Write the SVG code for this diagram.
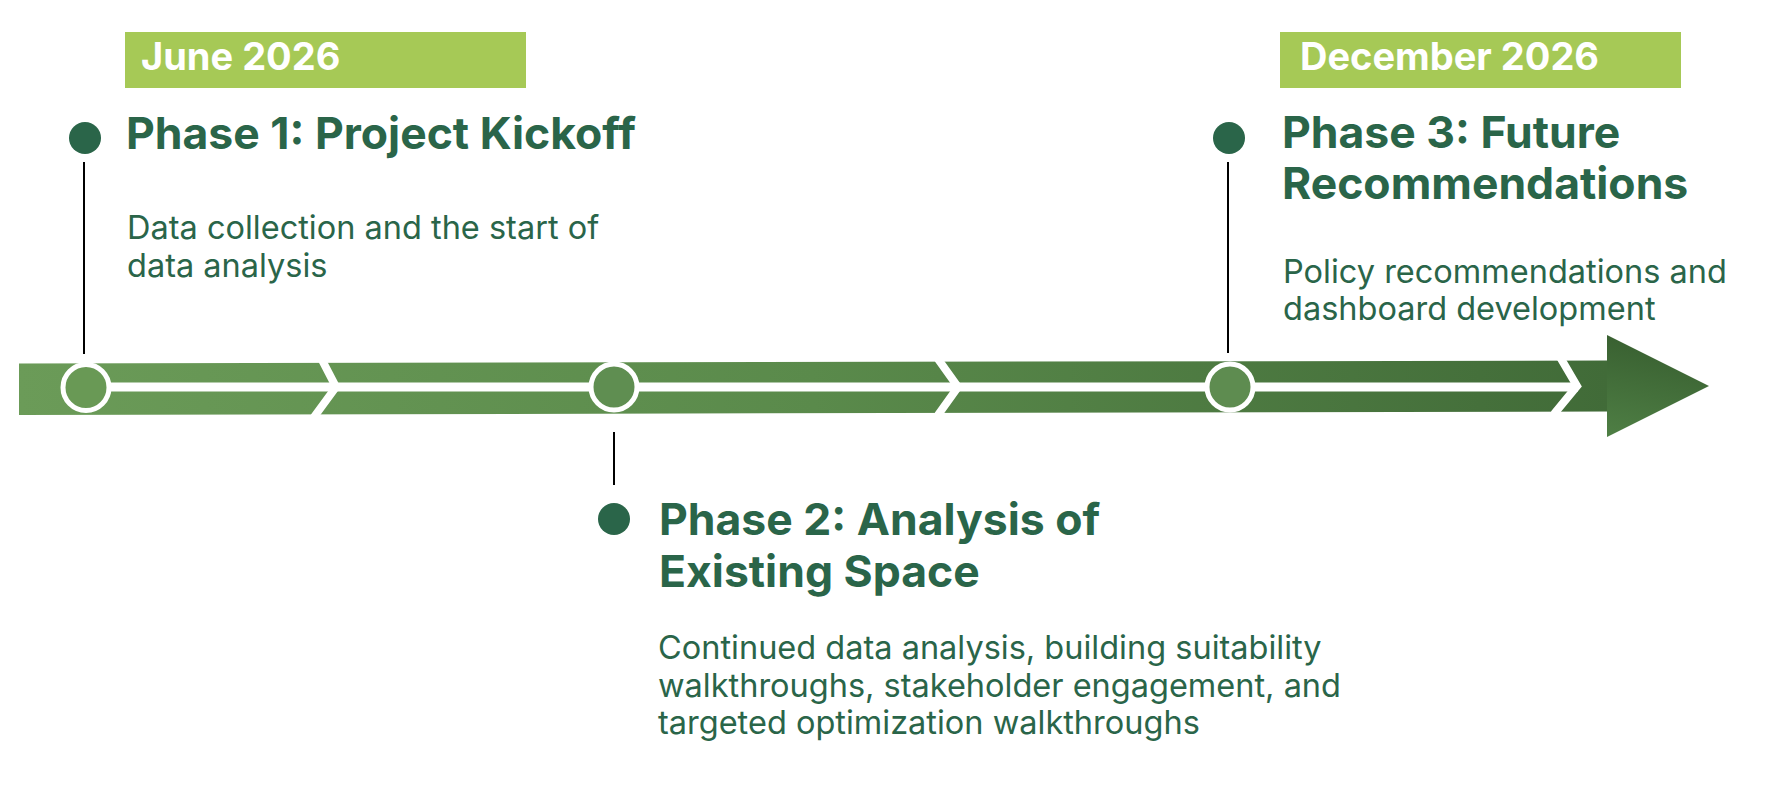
<svg xmlns="http://www.w3.org/2000/svg" width="1769" height="797" viewBox="0 0 1769 797">
  <style>
    .date-box { fill: #a6c956; }
    .date-text { font-family: Inter, "Liberation Sans", sans-serif; font-weight: 700; font-size: 38px; fill: #ffffff; }
    .title { font-family: Inter, "Liberation Sans", sans-serif; font-weight: 700; font-size: 44.5px; fill: #2a6549; }
    .desc { font-family: Inter, "Liberation Sans", sans-serif; font-weight: 400; font-size: 32.5px; fill: #2a6549; }
    .dot { fill: #2a6549; }
    .conn { stroke: #000000; stroke-width: 2; fill: none; }
    .ring { stroke: #ffffff; stroke-width: 5; }
    .gap { stroke: #ffffff; stroke-width: 8; fill: none; stroke-linejoin: miter; }
  </style>
  <defs>
    <linearGradient id="barGrad" gradientUnits="userSpaceOnUse" x1="19" y1="415" x2="1607" y2="360">
      <stop offset="0" stop-color="#6b9b58"/>
      <stop offset="0.5" stop-color="#5a8a4b"/>
      <stop offset="1" stop-color="#416b38"/>
    </linearGradient>
    <linearGradient id="headGrad" gradientUnits="userSpaceOnUse" x1="1640" y1="335" x2="1620" y2="437">
      <stop offset="0" stop-color="#385f30"/>
      <stop offset="1" stop-color="#4e7e44"/>
    </linearGradient>
  </defs>

  <!-- timeline bar -->
  <g id="timeline">
    <polygon points="19,363.5 1608,360.5 1608,411.5 19,415" fill="url(#barGrad)"/>
    <polygon points="1607,335 1709,386 1607,437" fill="url(#headGrad)"/>
    <line x1="86" y1="387" x2="1578" y2="387" stroke="#ffffff" stroke-width="9"/>
    <polyline class="gap" points="322,360 336,387 314,417"/>
    <polyline class="gap" points="938,359 958,387 938,415"/>
    <polyline class="gap" points="1560,357 1577,386 1554,414"/>
    <circle class="ring" cx="86" cy="387.5" r="23" fill="#699955"/>
    <circle class="ring" cx="614" cy="387" r="23" fill="#5f8e51"/>
    <circle class="ring" cx="1230" cy="387" r="23" fill="#5e8c50"/>
  </g>

  <!-- connectors -->
  <g id="connectors">
    <line class="conn" x1="84" y1="162" x2="84" y2="354"/>
    <line class="conn" x1="614" y1="432" x2="614" y2="485"/>
    <line class="conn" x1="1228" y1="162" x2="1228" y2="353"/>
  </g>

  <g id="date-june">
    <rect class="date-box" x="125" y="32" width="401" height="56"/>
    <text class="date-text" x="141" y="70">June 2026</text>
  </g>

  <g id="date-december">
    <rect class="date-box" x="1280" y="32" width="401" height="56"/>
    <text class="date-text" x="1300" y="70">December 2026</text>
  </g>

  <g id="phase1">
    <circle class="dot" cx="85" cy="138" r="16"/>
    <text class="title" x="126" y="149">Phase 1: Project Kickoff</text>
    <text class="desc" x="127" y="239">Data collection and the start of</text>
    <text class="desc" x="127" y="277">data analysis</text>
  </g>

  <g id="phase2">
    <circle class="dot" cx="614" cy="519" r="16"/>
    <text class="title" x="659" y="535">Phase 2: Analysis of</text>
    <text class="title" x="659" y="587">Existing Space</text>
    <text class="desc" x="658" y="659">Continued data analysis, building suitability</text>
    <text class="desc" x="658" y="697">walkthroughs, stakeholder engagement, and</text>
    <text class="desc" x="658" y="734">targeted optimization walkthroughs</text>
  </g>

  <g id="phase3">
    <circle class="dot" cx="1229" cy="138" r="16"/>
    <text class="title" x="1282" y="148">Phase 3: Future</text>
    <text class="title" x="1282" y="199">Recommendations</text>
    <text class="desc" x="1283" y="283">Policy recommendations and</text>
    <text class="desc" x="1283" y="320">dashboard development</text>
  </g>
</svg>
